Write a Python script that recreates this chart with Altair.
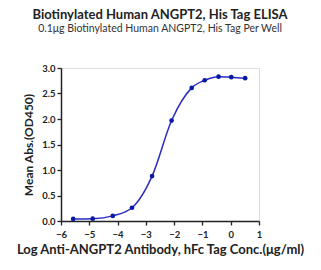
import altair as alt
import pandas as pd

log_conc = [-5.57, -4.88, -4.17, -3.49, -2.78, -2.09, -1.38, -0.92, -0.43, 0.02, 0.51]
od450 = [0.04, 0.045, 0.10, 0.26, 0.88, 1.97, 2.61, 2.76, 2.83, 2.82, 2.80]

x_ticks = [-6, -5, -4, -3, -2, -1, 0, 1]
y_ticks = [0.0, 0.5, 1.0, 1.5, 2.0, 2.5, 3.0]

df = pd.DataFrame({"x": log_conc, "y": od450})

FONT = "Lato"
INK = "#222222"

x_enc = alt.X(
    "x:Q",
    scale=alt.Scale(domain=[-6, 1], nice=False, zero=False),
    axis=alt.Axis(
        values=x_ticks,
        format="d",
        labelOverlap=False,
        labelBound=False,
        labelFlush=False,
        title="Log Anti-ANGPT2 Antibody, hFc Tag Conc.(μg/ml)",
        titleFontSize=13,
        titleFontWeight="bold",
        titleFont=FONT,
        titleColor=INK,
        titlePadding=5,
        labelFont=FONT,
        labelFontSize=9.5,
        labelFontWeight="bold",
        labelColor=INK,
        labelPadding=4,
        tickSize=4,
        tickColor=INK,
        tickWidth=1.3,
        domainColor=INK,
        domainWidth=1.5,
        grid=False,
    ),
)
y_enc = alt.Y(
    "y:Q",
    scale=alt.Scale(domain=[0, 3], nice=False),
    axis=alt.Axis(
        values=y_ticks,
        format=".1f",
        labelOverlap=False,
        labelBound=False,
        labelFlush=False,
        title="Mean Abs.(OD450)",
        titleFontSize=12,
        titleFontWeight="bold",
        titleFont=FONT,
        titleColor=INK,
        titlePadding=6,
        labelFont=FONT,
        labelFontSize=9.5,
        labelFontWeight="bold",
        labelColor=INK,
        labelPadding=2,
        tickSize=4,
        tickColor=INK,
        tickWidth=1.3,
        domainColor=INK,
        domainWidth=1.5,
        grid=False,
    ),
)

base = alt.Chart(df).encode(x=x_enc, y=y_enc)

line = base.mark_line(color="#2b2bc0", strokeWidth=1.5, interpolate="monotone")
pts = base.mark_circle(color="#0a18a8", size=22, opacity=1)

chart = (
    alt.layer(line, pts)
    .properties(
        width=198,
        height=153,
        padding={"left": 61, "top": 68, "right": 62, "bottom": 49},
        autosize=alt.AutoSizeParams(type="none"),
        title=alt.TitleParams(
            text="Biotinylated Human ANGPT2, His Tag ELISA",
            subtitle="0.1μg Biotinylated Human ANGPT2, His Tag Per Well",
            anchor="middle",
            font=FONT,
            fontSize=13,
            fontWeight="bold",
            color=INK,
            subtitleFont=FONT,
            subtitleFontSize=10.5,
            subtitleColor="#333333",
            subtitlePadding=2,
            offset=29,
        ),
    )
    .configure_view(stroke=None)
    .configure(background="white")
)

chart.save("out.html", embed_options={"renderer": "svg", "actions": False})
